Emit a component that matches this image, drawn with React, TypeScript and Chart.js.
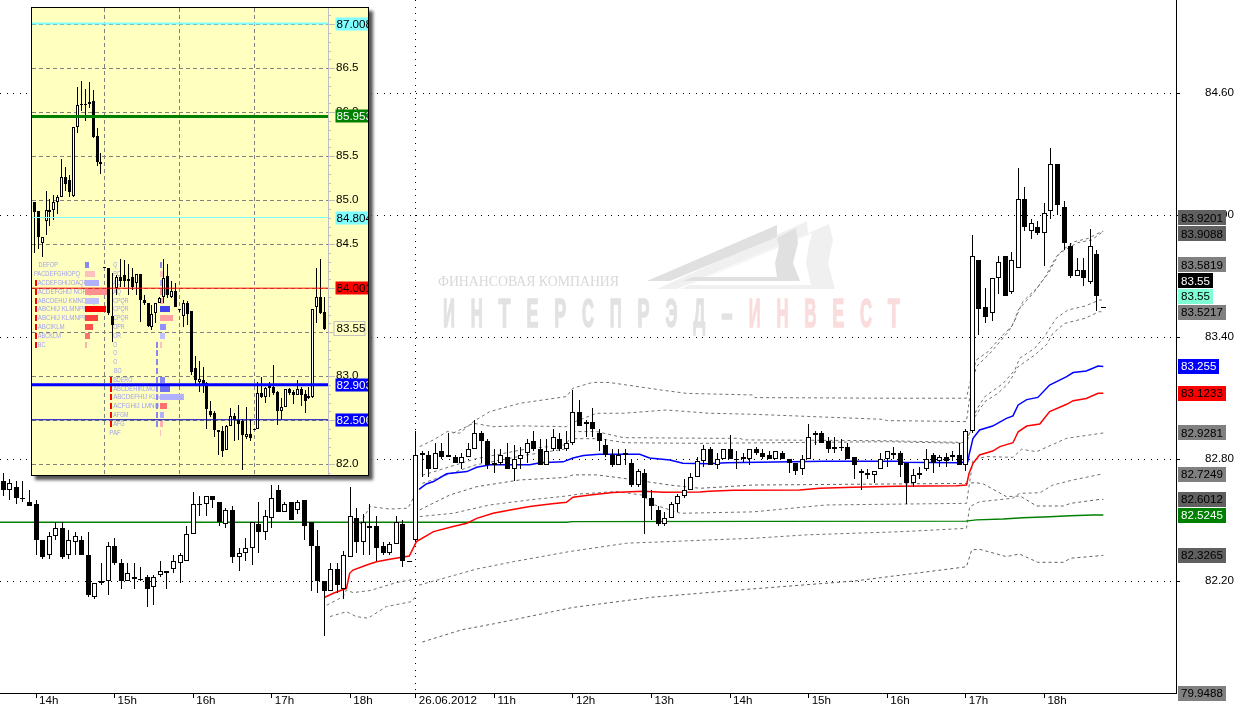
import React, { useEffect, useRef } from "react";
import { Chart, registerables } from "chart.js";

Chart.register(...registerables);

const FONT = "'Liberation Sans', Arial, sans-serif";

/* ---------- main chart data: 5-minute candles ---------- */
const opens = [
  82.69,82.65,82.66,82.61,82.59,82.58,82.40,82.33,82.42,82.46,
  82.33,82.39,82.40,82.33,82.12,82.19,82.20,82.37,82.29,82.20,
  82.22,82.21,82.22,82.17,82.23,82.25,82.26,82.29,82.30,82.43,
  82.58,82.58,82.62,82.59,82.48,82.55,82.32,82.34,82.36,82.48,
  82.44,82.51,82.65,82.54,82.59,82.55,82.60,82.49,82.37,82.20,
  82.15,82.26,82.16,82.32,82.51,82.39,82.47,82.47,82.37,82.34,
  82.38,82.48,82.30,82.40,82.83,82.82,82.75,82.84,82.82,82.81,
  82.78,82.81,82.85,82.93,82.89,82.77,82.78,82.81,82.75,82.80,
  82.83,82.89,82.85,82.77,82.85,82.90,82.85,82.88,83.03,82.97,
  82.98,82.93,82.87,82.82,82.77,82.83,82.78,82.67,82.73,82.61,
  82.55,82.48,82.51,82.58,82.62,82.65,82.71,82.79,82.85,82.77,
  82.80,82.85,82.80,82.80,82.80,82.85,82.83,82.82,82.80,82.83,
  82.80,82.78,82.75,82.80,82.92,82.93,82.89,82.85,82.86,82.86,
  82.81,82.73,82.73,82.72,82.75,82.80,82.82,82.83,82.78,82.68,
  82.72,82.75,82.82,82.79,82.81,82.81,82.82,82.77,82.94,83.78,
  83.55,83.52,83.69,83.80,83.62,83.74,84.08,83.92,83.94,83.91,
  84.02,84.25,84.04,83.85,83.70,83.73,83.67,83.81,83.55,
];
const highs = [
  82.73,82.70,82.69,82.69,82.65,82.60,82.40,82.44,82.49,82.49,
  82.45,82.44,82.42,82.44,82.19,82.29,82.39,82.41,82.31,82.29,
  82.29,82.27,82.23,82.23,82.30,82.25,82.33,82.34,82.47,82.64,
  82.62,82.62,82.62,82.59,82.56,82.57,82.36,82.41,82.49,82.59,
  82.55,82.67,82.67,82.59,82.59,82.60,82.60,82.49,82.45,82.20,
  82.29,82.29,82.35,82.66,82.56,82.53,82.58,82.52,82.39,82.39,
  82.52,82.50,82.30,82.94,82.84,82.84,82.88,82.88,82.93,82.82,
  82.83,82.88,82.99,82.94,82.90,82.85,82.85,82.88,82.87,82.86,
  82.90,82.94,82.90,82.90,82.95,82.93,82.94,83.14,83.09,82.99,
  83.05,82.95,82.90,82.85,82.85,82.85,82.80,82.75,82.75,82.65,
  82.57,82.54,82.59,82.63,82.70,82.73,82.81,82.87,82.86,82.83,
  82.85,82.92,82.84,82.83,82.85,82.86,82.85,82.84,82.84,82.84,
  82.80,82.78,82.82,82.97,82.94,82.94,82.91,82.91,82.90,82.88,
  82.81,82.75,82.75,82.74,82.83,82.84,82.86,82.84,82.78,82.75,
  82.76,82.85,82.83,82.82,82.83,82.84,82.88,82.95,83.90,83.78,
  83.64,83.69,83.80,83.80,83.82,84.23,84.14,83.98,83.97,84.06,
  84.33,84.25,84.07,83.86,83.79,83.79,83.93,83.83,83.55,
];
const lows = [
  82.62,82.60,82.58,82.59,82.57,82.33,82.31,82.31,82.40,82.31,
  82.31,82.33,82.33,82.12,82.11,82.18,82.13,82.28,82.16,82.20,
  82.16,82.20,82.07,82.08,82.22,82.16,82.24,82.19,82.30,82.43,
  82.52,82.52,82.56,82.47,82.46,82.29,82.25,82.30,82.28,82.34,
  82.40,82.46,82.54,82.54,82.50,82.53,82.40,82.15,82.14,81.93,
  82.15,82.14,82.11,82.32,82.34,82.33,82.33,82.30,82.33,82.33,
  82.38,82.27,82.30,82.39,82.71,82.71,82.75,82.80,82.81,82.78,
  82.75,82.81,82.85,82.78,82.75,82.73,82.77,82.75,82.69,82.75,
  82.78,82.84,82.77,82.77,82.84,82.84,82.84,82.87,82.96,82.91,
  82.91,82.84,82.81,82.76,82.77,82.77,82.66,82.66,82.43,82.50,
  82.47,82.47,82.51,82.54,82.61,82.65,82.71,82.76,82.77,82.75,
  82.80,82.80,82.75,82.78,82.77,82.82,82.80,82.80,82.80,82.80,
  82.73,82.72,82.72,82.80,82.87,82.88,82.83,82.83,82.84,82.80,
  82.70,82.65,82.70,82.68,82.75,82.76,82.80,82.71,82.58,82.66,
  82.70,82.74,82.73,82.76,82.76,82.79,82.77,82.74,82.93,83.41,
  83.47,83.48,83.61,83.60,83.61,83.74,83.92,83.88,83.90,83.75,
  83.98,84.00,83.83,83.69,83.70,83.65,83.66,83.53,83.55,
];
const closes = [
  82.65,82.68,82.61,82.61,82.57,82.40,82.32,82.42,82.46,82.32,
  82.40,82.42,82.33,82.13,82.19,82.20,82.37,82.29,82.20,82.24,
  82.21,82.21,82.16,82.22,82.25,82.24,82.30,82.33,82.43,82.58,
  82.58,82.62,82.60,82.49,82.55,82.32,82.34,82.36,82.49,82.44,
  82.52,82.61,82.54,82.58,82.50,82.59,82.47,82.37,82.20,82.15,
  82.26,82.18,82.33,82.52,82.39,82.49,82.46,82.36,82.34,82.38,
  82.49,82.30,82.30,82.82,82.82,82.75,82.83,82.81,82.81,82.78,
  82.81,82.85,82.93,82.89,82.77,82.78,82.82,82.75,82.80,82.82,
  82.88,82.85,82.77,82.84,82.91,82.85,82.88,83.03,82.96,82.98,
  82.95,82.89,82.82,82.77,82.82,82.82,82.67,82.74,82.61,82.57,
  82.48,82.51,82.58,82.62,82.65,82.71,82.79,82.85,82.77,82.80,
  82.85,82.80,82.80,82.81,82.85,82.83,82.81,82.80,82.84,82.80,
  82.78,82.74,82.80,82.91,82.93,82.88,82.85,82.86,82.86,82.80,
  82.77,82.74,82.72,82.74,82.80,82.84,82.83,82.77,82.68,82.72,
  82.73,82.80,82.78,82.81,82.79,82.82,82.77,82.94,83.80,83.54,
  83.50,83.69,83.77,83.60,83.78,84.08,83.94,83.96,83.91,84.01,
  84.25,84.05,83.86,83.70,83.73,83.69,83.85,83.60,83.55,
];

/* indicator lines: [bar index, price] */
const greenLine = [[-1,82.489],[86,82.489],[87,82.492],[147,82.494],[148.6,82.501],[152.7,82.505],[155.7,82.511],[159.8,82.516],[162.9,82.521],[166.4,82.5245],[168,82.5245]];
const redLine = [[49.1,82.12],[50.4,82.14],[52.4,82.164],[52.9,82.238],[53.4,82.254],[55.5,82.279],[57,82.295],[59,82.307],[62,82.323],[63.1,82.394],[65.7,82.443],[68.7,82.468],[70.8,82.484],[72.3,82.508],[74.8,82.533],[77.4,82.549],[80.4,82.566],[83.5,82.579],[86,82.587],[87,82.612],[89.6,82.623],[93.1,82.635],[97.7,82.641],[100.8,82.636],[106.4,82.638],[107.8,82.641],[111.5,82.646],[121.6,82.648],[124.7,82.656],[129.8,82.661],[136.4,82.666],[145.6,82.668],[147.1,82.672],[147.5,82.73],[148.1,82.779],[149.1,82.82],[151.1,82.839],[152.2,82.861],[154.2,82.88],[155,82.934],[156.3,82.962],[158.3,82.972],[159.8,83.033],[162.4,83.069],[163.4,83.087],[165.4,83.098],[167.2,83.123],[168,83.1233]];
const blueLine = [[63.5,82.651],[64.6,82.677],[65.7,82.689],[67.7,82.727],[70.8,82.738],[72.3,82.759],[74.4,82.772],[80.4,82.772],[82,82.782],[85.5,82.786],[87,82.805],[88.6,82.817],[91,82.823],[97.2,82.823],[98.7,82.805],[101.8,82.795],[103.8,82.779],[107.8,82.777],[110.4,82.782],[125.2,82.789],[136.9,82.789],[137.2,82.784],[146,82.782],[147.3,82.786],[147.5,82.82],[148.1,82.902],[149.1,82.943],[151.1,82.962],[153.2,83],[154.2,83.012],[155,83.066],[156.3,83.092],[158,83.103],[159.8,83.164],[162.4,83.205],[163.4,83.225],[165.4,83.233],[167.2,83.257],[168,83.255]];

const bandFirstUp = [[52.7,82.377],[53.4,82.418],[56,82.566],[59,82.554],[61.8,82.558],[62.6,82.607]];
const bandFirstLow = [[49.4,82.081],[51.9,82.123],[52.4,82.156],[53.4,82.143],[56,82.153],[60,82.192],[62.6,82.208]];
const bandFirstLow2 = [[49.9,82.025],[52.4,82.049],[53.9,82.025],[55.7,82.017],[58.5,82.074],[62.4,82.099],[63.1,82.131]];

const bandA = [[63.6,82.861],[65.7,82.894],[67.8,82.935],[69.7,82.927],[71.8,82.984],[74.3,83.033],[78.9,83.074],[86,83.107],[87,83.148],[90,83.177],[92.6,83.176],[95.2,83.164],[100.3,83.14],[104.3,83.123],[107.8,83.12],[114.5,83.115],[114.8,83.102],[135.4,83.099],[147.1,83.099],[147.6,83.172],[148.6,83.287],[150.4,83.328],[152.4,83.402],[154.2,83.459],[155,83.533],[157.5,83.623],[159.3,83.705],[160.8,83.795],[162.1,83.836],[163.6,83.869],[165.7,83.885],[167.7,83.918],[168,83.9201]];
const bandB = [[68.7,82.927],[71.8,82.976],[74.8,82.959],[78.9,82.963],[86,82.959],[87,82.98],[90.6,83.025],[94.7,83.025],[101.3,83.041],[107.8,83.025],[114.5,83.02],[134.4,82.995],[134.9,82.989],[147.1,82.984],[147.6,83.107],[148.6,83.254],[150.7,83.32],[153.5,83.426],[154.5,83.484],[155.7,83.574],[157.8,83.639],[159.6,83.713],[161.1,83.803],[162.1,83.828],[164.1,83.864],[166.2,83.877],[167.7,83.913],[168,83.9088]];
const bandC = [[64,82.72],[72,82.8],[80,82.85],[86,82.87],[87,82.935],[90.6,82.935],[94.7,82.905],[107.8,82.902],[112.5,82.902],[113,82.894],[134.9,82.89],[147.1,82.881],[148.6,83.041],[149.9,83.107],[152.7,83.172],[154.5,83.238],[155.2,83.295],[157.5,83.344],[159,83.402],[160.8,83.492],[162.6,83.533],[165.2,83.552],[167.4,83.582],[168,83.5819]];
const bandD = [[64,82.68],[72,82.77],[80,82.82],[86,82.85],[87,82.9],[91,82.9],[95,82.88],[106.4,82.877],[134.9,82.885],[147.1,82.877],[148.4,83.008],[149.9,83.082],[151.9,83.123],[153.5,83.172],[155,83.254],[157.5,83.311],[159.3,83.361],[160.3,83.418],[162.1,83.467],[165.2,83.492],[167.4,83.525],[168,83.5217]];
const bandE = [[63.6,82.55],[68.2,82.623],[72.3,82.664],[78.9,82.697],[83.5,82.705],[86,82.71],[87,82.722],[90.6,82.722],[94.7,82.705],[101.8,82.672],[106.4,82.656],[114.5,82.672],[147.1,82.68],[148.5,82.684],[149.7,82.677],[153.2,82.615],[155.3,82.618],[157.8,82.569],[161.9,82.569],[163,82.582],[167.6,82.602],[168,82.6012]];
const bandF = [[63.6,82.517],[68.7,82.533],[74.3,82.574],[80.4,82.599],[86,82.618],[88,82.628],[93.6,82.64],[97.5,82.623],[99.5,82.574],[103.4,82.533],[114.5,82.54],[125.7,82.574],[147.1,82.582],[148.1,82.795],[150.1,82.812],[154.2,82.808],[155.5,82.848],[157.8,82.836],[162.4,82.902],[167.6,82.926],[168,82.9281]];
const bandG = [[63.5,82.18],[68,82.22],[72.3,82.259],[77.9,82.295],[86.5,82.345],[95.2,82.386],[101.8,82.394],[107.8,82.402],[114.5,82.41],[122.7,82.427],[137.4,82.443],[147.1,82.459],[147.6,82.566],[149.1,82.59],[154.2,82.607],[155.2,82.631],[158.3,82.634],[160.3,82.672],[163.4,82.697],[167.6,82.725],[168,82.7249]];
const bandH = [[64,81.9],[70,81.96],[75,81.99],[87,82.07],[99,82.12],[114,82.16],[130,82.2],[147.1,82.27],[147.9,82.353],[149.1,82.356],[153.2,82.32],[155.2,82.333],[158,82.292],[161.9,82.292],[163,82.312],[167.7,82.325],[168,82.3265]];

const priceTicks = [84.6, 84.0, 83.4, 82.8, 82.2];
const hourTickBars = [5, 17, 29, 41, 53, 63, 75, 87, 99, 111, 123, 135, 147, 159];
const hourTickLabels = ["14h", "15h", "16h", "17h", "18h", "26.06.2012", "11h", "12h", "13h", "14h", "15h", "16h", "17h", "18h"];

const priceLabels = ["83.9201","83.9088","83.5819","83.55","83.55","83.5217","83.255","83.1233","82.9281","82.7249","82.6012","82.5245","82.3265","79.9488"];
const priceLabelBg = ["#606060","#606060","#808080","#000000","#7fffd4","#808080","#0000ff","#ff0000","#808080","#808080","#606060","#008000","#606060","#808080"];
const priceLabelFg = ["#000","#000","#000","#fff","#000","#000","#fff","#000","#000","#000","#000","#fff","#000","#000"];

/* ---------- inset chart data ---------- */
const insetOpens = [84.98,84.88,84.52,84.77,84.89,84.89,84.98,85.04,85.27,85.23,85.05,85.83,86.09,86.09,86.09,86.13,85.73,85.41,84.24,84.23,83.69,84.00,84.13,84.15,84.08,84.13,84.06,84.16,83.87,83.83,83.56,83.72,83.83,83.90,84.14,83.90,83.97,83.77,83.69,83.83,83.74,83.09,82.93,82.96,82.92,82.61,82.58,82.39,82.38,82.16,82.43,82.55,82.50,82.49,82.31,82.34,82.40,82.40,82.81,82.77,82.89,82.88,82.82,82.61,82.65,82.85,82.82,82.79,82.86,82.80,82.75,82.77,83.79,83.90,83.73];
const insetHighs = [84.98,84.88,84.58,85.10,85.02,85.06,85.06,85.47,85.38,85.29,85.83,86.29,86.36,86.27,86.34,86.25,85.82,85.54,84.24,84.23,84.17,84.15,84.33,84.32,84.28,84.23,84.16,84.16,83.92,83.83,83.81,83.83,83.90,84.33,84.28,84.08,84.06,83.77,83.87,83.86,83.74,83.23,83.17,83.11,82.94,82.72,82.60,82.39,82.43,82.45,82.64,82.58,82.67,82.52,82.65,82.51,82.40,82.94,82.99,82.88,82.94,83.13,82.83,82.75,82.85,82.87,82.84,82.96,82.88,82.84,82.88,83.77,84.23,84.33,83.90];
const insetLows = [84.40,84.45,84.36,84.60,84.71,84.78,84.84,85.04,85.10,85.04,85.04,85.77,86.01,85.90,86.05,85.71,85.39,85.30,84.24,83.70,83.39,83.92,84.02,84.02,83.92,83.98,83.92,83.62,83.81,83.56,83.53,83.60,83.83,83.83,83.89,83.89,83.79,83.73,83.56,83.58,83.01,82.90,82.82,82.81,82.40,82.54,82.31,82.11,82.08,82.16,82.43,82.26,82.28,81.93,82.29,82.27,82.40,82.40,82.75,82.70,82.77,82.79,82.45,82.50,82.65,82.79,82.69,82.79,82.66,82.58,82.74,82.75,83.60,83.71,83.53];
const insetCloses = [84.87,84.58,84.58,84.89,84.87,84.98,85.04,85.27,85.19,85.09,85.83,86.08,86.09,86.09,86.12,85.72,85.43,85.44,84.24,83.72,83.58,84.13,84.08,84.08,84.10,84.02,84.16,83.87,83.83,83.57,83.71,83.83,83.89,84.12,83.92,83.97,83.79,83.77,83.83,83.71,83.05,82.96,82.97,82.91,82.63,82.56,82.39,82.37,82.15,82.43,82.55,82.50,82.46,82.33,82.34,82.30,82.40,82.81,82.76,82.87,82.87,82.81,82.61,82.65,82.85,82.81,82.79,82.86,82.79,82.72,82.78,83.77,83.90,83.72,83.54];

const insetGridBars = [18, 37, 56];
const insetLevels = [87.008, 85.953, 84.804, 84.001, 82.903, 82.506];
const insetLevelColors = ["#7fffff", "#008000", "#7fffff", "#ff0000", "#0000ff", "#0000c0"];
const insetLevelWidths = [2, 3, 1, 1, 3, 1];
const insetLevelText = ["87.008", "85.953", "84.804", "84.001", "82.903", "82.506"];
const insetLevelFg = ["#000", "#fff", "#000", "#000", "#fff", "#fff"];
const insetLabelBg = ["#7fffff", "#008000", "#7fffff", "#ff0000", "#0000ff", "#0000ff"];
const insetLastPrice = 83.55;

/* price profile */
const profileRowPrices = [84.26,84.16,84.06,83.96,83.86,83.76,83.66,83.56,83.46,83.36,83.26,83.16,83.06,82.96,82.86,82.76,82.66,82.56,82.46,82.36];
const profile1Text = ["DEFOP","PACDEFGHIOPQ","ACDEFGHIJOAQR","ACDEFGHIJ NOPQR","ABCDEHIJ KMNOPQR","ABCHIJ KLMNPR","ABCHIJ KLMNPR","ABCIKLM","ABCKLM","BC"];
const profile1TextBar = [1.1,-0.1,0.87,0.87,0.87,0.87,0.87,0.87,0.87,0.87];
const profile1Lengths = [1.02,2.54,3.56,6.1,3.56,5.34,3.31,2.04,1.27,0.51];
const profile1Colors = ["#8888ee","#ffc0c0","#b0b0ff","#ff9090","#c0c0ff","#ff0000","#ff4040","#ff5050","#ff7070","#ffb0b0"];
const profile2Text = ["Q","PQ","AQ","AQ","CPQR","CPQR","CPQR","OPR","OR","O","O","O","BO","BDERO","ABCDEHIKLMO","ABCDEFHIJ KLMNO","ACFGHIJ LMNO","AFGM","AFG","PAF"];
const profile2TextBar = [20.1,20.1,20.1,20.1,20.1,20.1,20.1,20.1,20.1,20.1,20.1,20.1,20.3,20.1,20.1,20.1,20.1,20.1,20.1,19.1];
const profile2Lengths = [0.51,0.76,0.76,1.78,1.02,2.54,3.31,1.53,1.27,0.51,0.17,0.17,0,1.27,2.54,6.11,1.78,1.02,0.76,0.25];
const profile2Colors = ["#8888ee","#ffc0c0","#b0b0ff","#ff9090","#ffb0b0","#4444ee","#ffa0a0","#9090ff","#c0c0ff","#ffc0c0","#ffc0c0","#ffc0c0","#ffc0c0","#8888ee","#7070ee","#b0b0ff","#ff7070","#b0b0ff","#ffb0b0","#ffc0c0"];
const profile1Base = 12.9;
const profile2Base = 31.98;
const redMarkRows1 = [2,3,4,5,6,7,8,9];
const redMarkRows2 = [13,14,15,16,17,18];
const blueMarkRows = [9,10,11,12,13,14,15,16,17,18];

/* ---------- helpers ---------- */
const xy = (pts: number[][]) => pts.map(([x, y]) => ({ x, y }));

const crispBars = {
  id: "crispBars",
  afterDatasetsUpdate(chart: any) {
    chart.getSortedVisibleDatasetMetas().forEach((meta: any) => {
      if (meta.type !== "bar") return;
      meta.data.forEach((el: any) => {
        if (meta.indexAxis === "y") {
          el.y = Math.round(el.y);
          el.x = Math.round(el.x);
          el.base = Math.round(el.base);
          return;
        }
        const top = Math.round(Math.min(el.y, el.base));
        let bottom = Math.round(Math.max(el.y, el.base));
        if (bottom <= top) bottom = top + 1;
        el.x = Math.floor(el.x) + 0.5;
        el.y = top;
        el.base = bottom;
      });
    });
  },
};

function candleSets(o: number[], h: number[], l: number[], c: number[], bodyWidth: number, order: number) {
  return [
    {
      type: "bar",
      label: "wicks",
      data: o.map((_, i) => ({ x: i, y: [l[i], h[i]] })),
      backgroundColor: "#000",
      borderWidth: 0,
      barThickness: 1,
      grouped: false,
      inflateAmount: 0,
      order: order + 1,
    },
    {
      type: "bar",
      label: "bodies",
      data: o.map((v, i) => ({ x: i, y: [v, c[i]] })),
      backgroundColor: o.map((v, i) => (c[i] >= v ? "#fff" : "#000")),
      borderColor: "#000",
      borderWidth: 1,
      borderSkipped: false,
      barThickness: bodyWidth,
      grouped: false,
      inflateAmount: 0,
      order,
    },
  ];
}

function lineSet(label: string, pts: number[][], color: string, width: number, order: number, dash?: number[]) {
  return {
    type: "line",
    label,
    data: xy(pts),
    borderColor: color,
    borderWidth: width,
    borderDash: dash || [],
    pointRadius: 0,
    tension: 0,
    fill: false,
    order,
  };
}

function poly(ctx: CanvasRenderingContext2D, pts: number[][], color: string) {
  ctx.fillStyle = color;
  ctx.beginPath();
  pts.forEach(([x, y], i) => (i ? ctx.lineTo(x, y) : ctx.moveTo(x, y)));
  ctx.closePath();
  ctx.fill();
}

const watermark = {
  id: "watermark",
  beforeDraw(chart: any) {
    const ctx: CanvasRenderingContext2D = chart.ctx;
    ctx.save();
    poly(ctx, [[657,289],[807,221],[808,233],[677,289]], "#f0f0f0");
    poly(ctx, [[680,289],[829,224],[833,240],[828,263],[835,289]], "#f0f0f0");
    poly(ctx, [[690,285],[812,233],[809,245],[806,263],[811,285]], "#ffffff");
    poly(ctx, [[647,281],[777,225],[777,237],[670,281]], "#e0e0e0");
    poly(ctx, [[777,238],[796,228],[798,243],[793,263],[800,281],[683,281],[693,277],[777,277],[775,263],[779,247]], "#e0e0e0");
    ctx.textBaseline = "alphabetic";
    ctx.textAlign = "left";
    ctx.fillStyle = "#d8d8d8";
    ctx.font = `13.8px 'Liberation Serif', serif`;
    ctx.fillText("ФИНАНСОВАЯ КОМПАНИЯ", 438, 286);
    const word = "ИНТЕРСПРЭД-ИНВЕСТ";
    ctx.font = `bold 41px ${FONT}`;
    ctx.lineWidth = 1.5;
    for (let i = 0; i < word.length; i++) {
      const c = i > 10 ? "#fadcdc" : "#e2e2e2";
      ctx.fillStyle = c;
      ctx.strokeStyle = c;
      ctx.fillText(word[i], 443 + i * 27.8, 327, 12);
      ctx.strokeText(word[i], 443 + i * 27.8, 327, 12);
    }
    ctx.restore();
  },
};

const priceLabelPlugin = {
  id: "priceLabels",
  afterDraw(chart: any) {
    const ctx: CanvasRenderingContext2D = chart.ctx;
    const y = chart.scales.y;
    const lastY = chart.chartArea.bottom;
    ctx.save();
    ctx.font = `11.6px ${FONT}`;
    ctx.textBaseline = "middle";
    ctx.textAlign = "left";
    let prev = Infinity;
    for (let i = priceLabels.length - 1; i >= 0; i--) {
      const pos = Math.min(y.getPixelForValue(parseFloat(priceLabels[i])), lastY, prev - 15.8);
      prev = pos;
      const w = priceLabels[i].length * 6.9;
      ctx.fillStyle = priceLabelBg[i];
      ctx.fillRect(1178, Math.round(pos - 7.5), Math.round(w), 15);
      ctx.fillStyle = priceLabelFg[i];
      ctx.fillText(priceLabels[i], 1181, Math.round(pos) + 0.5);
    }
    ctx.restore();
  },
};

const profileText = {
  id: "profileText",
  beforeDatasetsDraw(chart: any) {
    const ctx: CanvasRenderingContext2D = chart.ctx;
    const { x, y } = chart.scales;
    ctx.save();
    ctx.fillStyle = "#a0a0f0";
    ctx.font = `7.5px ${FONT}`;
    ctx.textBaseline = "middle";
    ctx.textAlign = "left";
    const put = (t: string, bar: number, row: number) =>
      ctx.fillText(t, x.getPixelForValue(bar), y.getPixelForValue(profileRowPrices[row]), t.length * 3.85);
    profile1Text.forEach((t, i) => put(t, profile1TextBar[i], i));
    profile2Text.forEach((t, i) => put(t, profile2TextBar[i], i));
    ctx.restore();
  },
};

const insetLabels = {
  id: "insetLabels",
  afterDraw(chart: any) {
    const ctx: CanvasRenderingContext2D = chart.ctx;
    const y = chart.scales.y;
    const right = chart.scales.x.right;
    ctx.save();
    // axis tick marks: long at every 0.5, short at every 0.1
    ctx.strokeStyle = "#c0c0c0";
    ctx.lineWidth = 1;
    y.ticks.forEach((t: any) => {
      const p = Math.round(y.getPixelForValue(t.value)) + 0.5;
      const major = Number.isInteger(Math.round(t.value * 10) / 5);
      ctx.beginPath();
      ctx.moveTo(right, p);
      ctx.lineTo(right + (major ? 7 : 3), p);
      ctx.stroke();
    });
    ctx.font = `11.6px ${FONT}`;
    ctx.textBaseline = "middle";
    ctx.textAlign = "left";
    const bx = right + 7.5;
    insetLevels.forEach((v, i) => {
      const p = Math.round(y.getPixelForValue(v));
      ctx.fillStyle = insetLabelBg[i];
      ctx.fillRect(bx, p - 6.5, 34, 13);
      ctx.fillStyle = insetLevelFg[i];
      ctx.fillText(insetLevelText[i], bx + 1, p + 0.5);
    });
    const p = Math.round(y.getPixelForValue(insetLastPrice));
    ctx.fillStyle = "#ffffc0";
    ctx.fillRect(bx - 2, p - 7, 31, 14);
    ctx.strokeStyle = "#c0c0c0";
    ctx.strokeRect(bx - 1.5, p - 6.5, 31, 14);
    ctx.fillStyle = "#000";
    ctx.fillText(insetLastPrice.toFixed(2), bx + 1, p + 0.5);
    ctx.restore();
  },
};

const noPad = (s: any) => {
  s.paddingTop = 0;
  s.paddingBottom = 0;
  s.paddingLeft = 0;
  s.paddingRight = 0;
};

export default function App() {
  const mainRef = useRef<HTMLCanvasElement>(null);
  const insetRef = useRef<HTMLCanvasElement>(null);

  useEffect(() => {
    const D = [1, 6, 1, 5];
    const main = new Chart(mainRef.current as any, {
      type: "bar",
      data: {
        datasets: [
          ...candleSets(opens, highs, lows, closes, 5, 0),
          lineSet("VWAP", blueLine, "#0000ff", 1.5, 2),
          lineSet("VWAP 1", redLine, "#ff0000", 1.5, 3),
          lineSet("MA", greenLine, "#008000", 1.3, 4),
          lineSet("upper 1", bandFirstUp, "#707070", 1, 5, [3, 3]),
          lineSet("lower 1", bandFirstLow, "#707070", 1, 5, [3, 3]),
          lineSet("lower 2", bandFirstLow2, "#707070", 1, 5, [3, 3]),
          lineSet("A", bandA, "#707070", 1, 5, [3, 3]),
          lineSet("B", bandB, "#707070", 1, 5, [3, 3]),
          lineSet("C", bandC, "#707070", 1, 5, [3, 3]),
          lineSet("D", bandD, "#707070", 1, 5, [3, 3]),
          lineSet("E", bandE, "#606060", 1, 5, [3, 3]),
          lineSet("F", bandF, "#707070", 1, 5, [3, 3]),
          lineSet("G", bandG, "#707070", 1, 5, [3, 3]),
          lineSet("H", bandH, "#606060", 1, 5, [3, 3]),
        ] as any,
      },
      plugins: [crispBars, watermark, priceLabelPlugin],
      options: {
        responsive: false,
        animation: false,
        devicePixelRatio: 1,
        events: [],
        layout: { autoPadding: false, padding: 0 },
        plugins: { legend: { display: false }, title: { display: false }, tooltip: { enabled: false } },
        scales: {
          x: {
            type: "linear",
            min: -0.504,
            max: 179.1,
            offset: false,
            afterBuildTicks: (s: any) => { s.ticks = hourTickBars.map((value) => ({ value })); },
            afterFit: (s: any) => { s.height = 14; noPad(s); },
            border: { display: true, color: "#000", width: 1, dash: D },
            grid: {
              offset: false,
              drawTicks: true,
              tickLength: 5,
              tickColor: "#000",
              tickBorderDash: [],
              color: (c: any) => (c.tick && c.tick.value === 63 ? "#000" : "rgba(0,0,0,0)"),
            },
            ticks: {
              autoSkip: false,
              maxRotation: 0,
              minRotation: 0,
              align: "start",
              labelOffset: 3,
              padding: -4,
              color: "#000",
              font: { family: FONT, size: 11.6 },
              callback: (v: any) => hourTickLabels[hourTickBars.indexOf(v)],
            },
          },
          y: {
            type: "linear",
            position: "right",
            min: 81.6492,
            max: 85.0574,
            beginAtZero: false,
            afterBuildTicks: (s: any) => { s.ticks = priceTicks.map((value) => ({ value })); },
            afterFit: (s: any) => { s.width = 61; noPad(s); },
            border: { display: true, color: "#000", width: 1, dash: D },
            grid: { tickLength: 4, color: "#000", tickColor: "#000", tickBorderDash: [] },
            ticks: {
              autoSkip: false,
              padding: 25,
              color: "#000",
              font: { family: FONT, size: 11.6 },
              callback: (v: any) => Number(v).toFixed(2),
            },
          },
        },
      } as any,
    });

    const xLo = -0.585;
    const xHi = 74.86;
    const profileBar = { type: "bar", indexAxis: "y", barThickness: 6, grouped: false, inflateAmount: 0, order: 5 };
    const inset = new Chart(insetRef.current as any, {
      type: "bar",
      data: {
        datasets: [
          ...insetLevels.map((v, i) =>
            lineSet("level " + insetLevelText[i], [[xLo, v], [xHi, v]], insetLevelColors[i], insetLevelWidths[i], 0)
          ),
          ...candleSets(insetOpens, insetHighs, insetLows, insetCloses, 3, 1),
          {
            ...profileBar,
            label: "profile 1",
            data: profile1Lengths.map((w, i) => ({ x: [profile1Base, profile1Base + w], y: profileRowPrices[i] })),
            backgroundColor: profile1Colors,
          },
          {
            ...profileBar,
            label: "profile 2",
            data: profile2Lengths.map((w, i) => ({ x: [profile2Base, profile2Base + w], y: profileRowPrices[i] })),
            backgroundColor: profile2Colors,
          },
          {
            ...profileBar,
            label: "open mark 1",
            data: redMarkRows1.map((r) => ({ x: [0.18, 0.76], y: profileRowPrices[r] })),
            backgroundColor: "#ff0000",
          },
          {
            ...profileBar,
            label: "open mark 2",
            data: redMarkRows2.map((r) => ({ x: [19.26, 19.77], y: profileRowPrices[r] })),
            backgroundColor: "#ff0000",
          },
          {
            ...profileBar,
            label: "single print",
            data: blueMarkRows.map((r) => ({ x: [30.97, 31.48], y: profileRowPrices[r] })),
            backgroundColor: "#8888ee",
          },
        ] as any,
      },
      plugins: [crispBars, profileText, insetLabels],
      options: {
        responsive: false,
        animation: false,
        devicePixelRatio: 1,
        events: [],
        layout: { autoPadding: false, padding: 0 },
        plugins: { legend: { display: false }, title: { display: false }, tooltip: { enabled: false } },
        scales: {
          x: {
            type: "linear",
            min: xLo,
            max: xHi,
            offset: false,
            afterBuildTicks: (s: any) => { s.ticks = insetGridBars.map((value) => ({ value })); },
            afterFit: (s: any) => { s.height = 0; noPad(s); },
            border: { display: false, dash: [4, 3] },
            grid: { offset: false, drawTicks: false, color: "#808080" },
            ticks: { display: false },
          },
          y: {
            type: "linear",
            position: "right",
            min: 81.878,
            max: 87.185,
            offset: false,
            beginAtZero: false,
            afterBuildTicks: (s: any) => {
              const out = [];
              for (let t = 819; t <= 871; t++) out.push({ value: t / 10 });
              s.ticks = out;
            },
            afterFit: (s: any) => { s.width = 40; noPad(s); },
            border: { display: true, color: "#c0c0c0", width: 1, dash: [4, 3] },
            grid: {
              offset: false,
              drawTicks: false,
              color: (c: any) =>
                c.tick && Number.isInteger(Math.round(c.tick.value * 10) / 5) ? "#808080" : "rgba(0,0,0,0)",
            },
            ticks: {
              autoSkip: false,
              padding: 8,
              color: "#000",
              font: { family: FONT, size: 11.6 },
              callback: (v: any) => (Number.isInteger(Math.round(v * 10) / 5) ? Number(v).toFixed(1) : ""),
            },
          },
        },
      } as any,
    });

    return () => {
      main.destroy();
      inset.destroy();
    };
  }, []);

  return (
    <div style={{ position: "fixed", left: 0, top: 0, width: 1237, height: 707, overflow: "hidden", background: "#fff" }}>
      <canvas ref={mainRef} width={1237} height={707} style={{ position: "absolute", left: 0, top: 0, display: "block" }} />
      <div
        style={{
          position: "absolute",
          left: 31,
          top: 7,
          width: 336,
          height: 467,
          border: "1px solid #000",
          background: "#ffffc0",
          boxShadow: "4px 4px 3px #555",
        }}
      >
        <canvas ref={insetRef} width={336} height={467} style={{ display: "block" }} />
      </div>
    </div>
  );
}
